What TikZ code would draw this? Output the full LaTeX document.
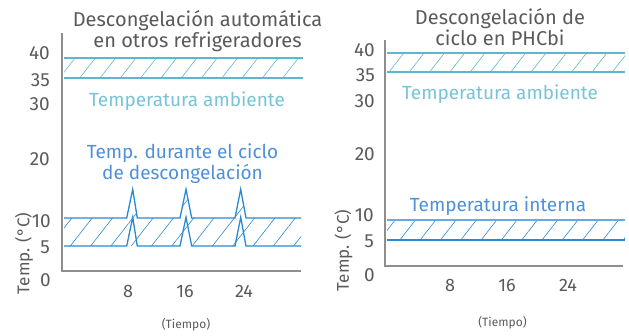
\documentclass[tikz,border=0pt]{standalone}
\usepackage{fontspec}
\setmainfont{Fira Sans}
\usetikzlibrary{patterns.meta}
\definecolor{txtgray}{HTML}{5A5A5A}
\definecolor{axgray}{HTML}{8E8E8E}
\definecolor{amb}{HTML}{5BB8D0}
\definecolor{ambtxt}{HTML}{78C3D8}
\definecolor{blu}{HTML}{2A89D2}
\definecolor{blutxt}{HTML}{4F90D8}
\definecolor{blulight}{HTML}{6AA8E0}

\begin{document}
\begin{tikzpicture}[x=1pt, y=-1pt,
  ttl/.style = {text=txtgray, font=\fontsize{20}{21.5}\selectfont, align=center, inner sep=0pt},
  lbl/.style = {font=\fontsize{19}{21}\selectfont, align=center, inner sep=0pt},
  num/.style = {text=txtgray, font=\fontsize{19}{20}\selectfont, anchor=east, inner sep=0pt},
  tck/.style = {text=txtgray, font=\fontsize{18}{20}\selectfont, inner sep=0pt},
  small/.style = {text=txtgray, font=\fontsize{12}{12}\selectfont, inner sep=0pt},
  ylbl/.style = {text=txtgray, font=\fontsize{17}{20}\selectfont, rotate=90, inner sep=0pt},
  axline/.style = {draw=axgray, line width=2pt},
  band/.style = {line width=1.3pt},
  hatch/.style = {pattern={Lines[angle=52,distance=16pt,line width=0.6pt]}, pattern color=#1}]
\useasboundingbox (0,0) rectangle (629,336);

% left chart
\draw[axline] (62,33) -- (62,271) -- (301,271);
\fill[hatch=amb] (64,58) rectangle (303,78);
\draw[band, amb] (64,58) -- (303,58);
\draw[band, amb] (64,78) -- (303,78);
\fill[hatch=blu] (64,246) -- (64,218) -- (126.7,218) -- (132.7,189.3) -- (137.3,218)
  -- (180,218) -- (186,189.3) -- (191.7,218) -- (235,218) -- (240.7,189.3) -- (246,218)
  -- (301,218) -- (301,246) -- cycle;
\draw[band, blu] (64,218) -- (126.7,218) -- (132.7,189.3) -- (137.3,218)
  -- (180,218) -- (186,189.3) -- (191.7,218) -- (235,218) -- (240.7,189.3) -- (246,218) -- (301,218);
\draw[band, blu] (64,246) -- (126.7,246) -- (132.7,217.3) -- (137.3,246)
  -- (180,246) -- (186,217.3) -- (191.7,246) -- (235,246) -- (240.7,217.3) -- (246,246) -- (301,246);

\node[ttl] (ltitle) at (197.5,31) {Descongelación automática\\en otros refrigeradores};
\node[lbl, text=ambtxt] (lamb) at (187,101) {Temperatura ambiente};
\node[lbl, text=blutxt] (ldef) at (182.5,164) {Temp. durante el ciclo\\de descongelación};

\node[num] (l40) at (50,53) {40};
\node[num] (l35) at (50,80) {35};
\node[num] (l30) at (50,104) {30};
\node[num] (l20) at (50,159) {20};
\node[num] (l10) at (51,221) {10};
\node[num] (l5) at (50,247) {5};
\node[num] (l0) at (51,280) {0};
\node[ylbl] (lylab) at (24,253.5) {Temp. (°C)};

\node[tck] (l8) at (128,291.5) {8};
\node[tck] (l16) at (185,291.5) {16};
\node[tck] (l24) at (244,291.5) {24};
\node[small] (ltime) at (186,325) {(Tiempo)};

% right chart
\draw[axline] (385,40) -- (385,266) -- (623,266);
\fill[hatch=amb] (387,53) rectangle (625,72);
\draw[band, amb] (387,53) -- (625,53);
\draw[band, amb] (387,72) -- (625,72);
\fill[hatch=blu] (387,220) rectangle (625,240);
\draw[band, blulight] (387,220) -- (625,220);
\draw[band, blu] (387,240) -- (625,240);

\node[ttl] (rtitle) at (500,27) {Descongelación de\\ciclo en PHCbi};
\node[lbl, text=ambtxt] (ramb) at (500,94) {Temperatura ambiente};
\node[lbl, text=blutxt] (rint) at (498,206) {Temperatura interna};

\node[num] (r40) at (375,50) {40};
\node[num] (r35) at (375,75) {35};
\node[num] (r30) at (375,101) {30};
\node[num] (r20) at (375,154) {20};
\node[num] (r10) at (374,215) {10};
\node[num] (r5) at (374,241) {5};
\node[num] (r0) at (375,275) {0};
\node[ylbl] (rylab) at (343.5,250.5) {Temp. (°C)};

\node[tck] (r8) at (450,285) {8};
\node[tck] (r16) at (507,285) {16};
\node[tck] (r24) at (568,285) {24};
\node[small] (rtime) at (502.5,322.5) {(Tiempo)};
\end{tikzpicture}
\end{document}
